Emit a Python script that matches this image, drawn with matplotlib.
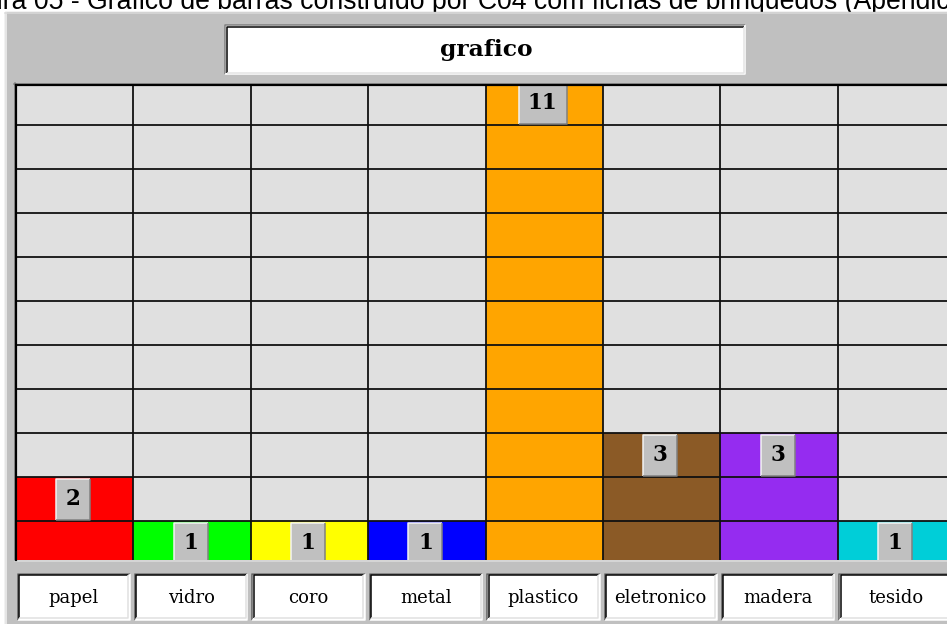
import matplotlib
matplotlib.use("Agg")
import matplotlib.pyplot as plt
from matplotlib.patches import Rectangle
import numpy as np

# dados do gráfico
categorias = ["papel", "vidro", "coro", "metal", "plastico", "eletronico", "madera", "tesido"]
valores = [2, 1, 1, 1, 11, 3, 3, 1]
cores = ["#ff0000", "#00ff00", "#ffff00", "#0000ff", "#ffa500", "#8b5a26", "#952cf0", "#00ced8"]
titulo = "grafico"
legenda = "Figura 05 - Gráfico de barras construído por C04 com fichas de brinquedos (Apêndice"

W, H = 947, 624
COL = 117.4          # largura de uma coluna (px)
ROW = 44.0           # altura de uma linha (px)
CINZA = "#c0c0c0"
FUNDO = "#e0e0e0"
PX = 0.72            # 1 px em pontos


def caixa(x0, y0, x1, y1):
    # retângulo em px (origem no topo) -> fração da figura
    return [x0 / W, 1 - y1 / H, (x1 - x0) / W, (y1 - y0) / H]


def bevel(ax, l, b, r, t, tl, br, lw=1.4, z=5, clip=True):
    # borda 3D: cor tl em cima/esquerda, br em baixo/direita
    ax.plot([l, l, r], [b, t, t], color=tl, lw=lw, zorder=z, clip_on=clip, solid_capstyle="butt")
    ax.plot([l, r, r], [b, b, t], color=br, lw=lw, zorder=z, clip_on=clip, solid_capstyle="butt")


fig = plt.figure(figsize=(W / 100, H / 100), dpi=100)
fig.patch.set_facecolor("white")

# fundo da janela, legenda e caixa do título
bg = fig.add_axes([0, 0, 1, 1])
bg.set_xlim(0, W); bg.set_ylim(H, 0); bg.axis("off")
bg.text(-49, 9, legenda, fontsize=19.2, family="Liberation Sans", va="baseline", zorder=1)
bg.add_patch(Rectangle((5, 12), W, H, color=CINZA, zorder=2))
bg.plot([6, 6], [12, H], color="#f2f2f2", lw=1.5 * PX, zorder=3)
bg.plot([5, W], [12.5, 12.5], color="#dadada", lw=1.5 * PX, zorder=3)

bg.add_patch(Rectangle((225, 25), 520, 49, facecolor="white", zorder=3))
bevel(bg, 225, 74, 745, 25, "#808080", "#ffffff", lw=1.5 * PX, z=4)
bevel(bg, 226.5, 72.5, 743.5, 26.5, "#000000", "#e4e4e4", lw=1.5 * PX, z=4)
bg.text(486, 50, titulo, fontsize=16.8, family="DejaVu Serif", weight="bold",
        ha="center", va="center", zorder=5)

# moldura afundada da grade
bg.plot([14, W], [83.5, 83.5], color="#808080", lw=1.5 * PX, zorder=3)
bg.plot([15, 15], [83, 560], color="#808080", lw=1.5 * PX, zorder=3)
bg.plot([15, W], [561, 561], color="#dcdcdc", lw=1.5 * PX, zorder=3)

# grade com as barras
ax = fig.add_axes(caixa(16, 85, W, 560))
ax.set_facecolor(FUNDO)
n = len(categorias)
x = np.arange(n)
ax.set_xlim(-0.5, -0.5 + (W - 16) / COL)
ax.set_ylim(5 / ROW, 11 - 4 / ROW)
ax.bar(x, valores, width=1.0, color=cores, zorder=2)
for k in range(1, 12):
    ax.axhline(k, color="#101010", lw=1.8 * PX, zorder=3)
for i in range(n):
    ax.axvline(i + 0.5, color="#101010", lw=1.8 * PX, zorder=3)
ax.set_xticks([]); ax.set_yticks([])
for s in ["right", "bottom"]:
    ax.spines[s].set_visible(False)
for s in ["top", "left"]:
    ax.spines[s].set_color("#000000")
    ax.spines[s].set_linewidth(2.2 * PX)
    ax.spines[s].set_zorder(6)

# caixinhas com o valor no topo de cada barra
px, py = 1 / COL, 1 / ROW
for i, v in enumerate(valores):
    txt = str(v)
    w = (20 + 14 * len(txt)) * px
    l = i - w / 2 - 1.5 * px
    r = l + w
    b = v - 1 + 1.5 * py
    t = v - 1.5 * py
    ax.add_patch(Rectangle((l, b), w, t - b, facecolor=CINZA, edgecolor="none", zorder=4))
    bevel(ax, l, b, r, t, "#f4f4f4", "#808080", lw=1.5 * PX, z=5)
    ax.text((l + r) / 2, v - 0.5, txt, ha="center", va="center", family="DejaVu Serif",
            weight="bold", fontsize=15.5, zorder=6)

# rótulos das categorias
lab = fig.add_axes(caixa(16, 573, W, 620))
lab.set_xlim(ax.get_xlim()); lab.set_ylim(0, 1); lab.axis("off")
qy = 1 / 47
for i, nome in enumerate(categorias):
    l = i - 0.5 + 1.5 * px
    r = i + 0.5 - 3.5 * px
    lab.add_patch(Rectangle((l, 0), r - l, 1, facecolor="white", edgecolor="none", zorder=1))
    bevel(lab, l, 0.5 * qy, r, 1 - 0.5 * qy, "#606060", "#ffffff", lw=1.5 * PX, z=2, clip=False)
    bevel(lab, l + 1.5 * px, 2 * qy, r - 1.5 * px, 1 - 2 * qy, "#000000", "#e0e0e0",
          lw=1.5 * PX, z=2, clip=False)
    lab.text((l + r) / 2, 0.47, nome, ha="center", va="center", family="DejaVu Serif",
             fontsize=13, zorder=3)

fig.savefig("out.png", dpi=100)
